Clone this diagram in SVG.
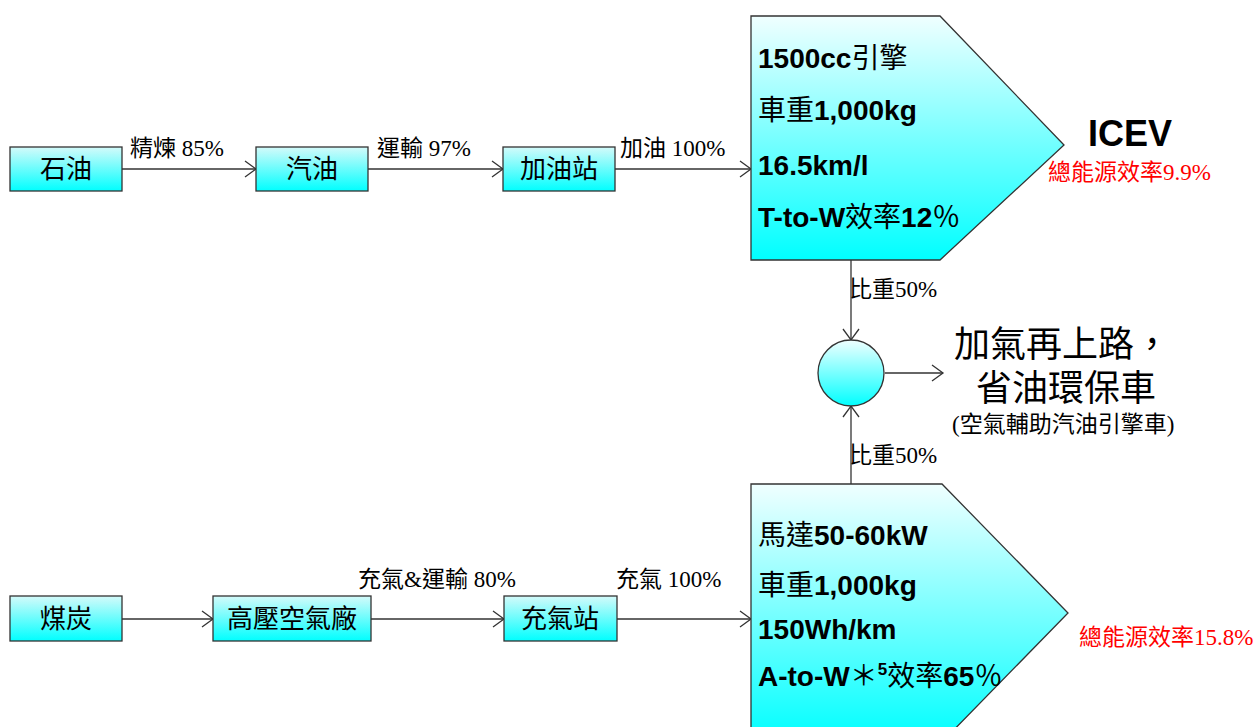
<svg xmlns="http://www.w3.org/2000/svg" width="1259" height="727" viewBox="0 0 1259 727">
<style>
.box{stroke:#333;stroke-width:1.3}
.cn{font-family:"Liberation Serif","Noto Sans CJK TC",serif;fill:#000}
.lbl{font-size:23px}
.boxt{font-size:26px;text-anchor:middle}
.big{font-family:"Liberation Sans","Noto Sans CJK TC",sans-serif;font-size:28px;font-weight:bold;fill:#000}
.reg{font-weight:normal;font-family:"Noto Sans CJK TC",sans-serif}
.red{font-family:"Liberation Serif","Noto Sans CJK TC",serif;font-size:23px;fill:#ff0000}
.conn{stroke:#333;stroke-width:1.3;fill:none}
</style>
<defs>
<linearGradient id="gBox" x1="0" y1="0" x2="0" y2="1">
<stop offset="0" stop-color="#d4fafa"/>
<stop offset="1" stop-color="#00ffff"/>
</linearGradient>
<linearGradient id="gPent" x1="0" y1="0" x2="0" y2="1">
<stop offset="0" stop-color="#f0ffff"/>
<stop offset="1" stop-color="#00ffff"/>
</linearGradient>
<marker id="arr" markerWidth="14" markerHeight="18" refX="12" refY="9" orient="auto" markerUnits="userSpaceOnUse">
<path d="M1,1 L12,9 L1,17" fill="none" stroke="#333" stroke-width="1.3"/>
</marker>
</defs>

<g id="connectors">
<line class="conn" x1="122" y1="169" x2="256" y2="169" marker-end="url(#arr)"/>
<line class="conn" x1="368" y1="169" x2="503" y2="169" marker-end="url(#arr)"/>
<line class="conn" x1="615" y1="169" x2="751" y2="169" marker-end="url(#arr)"/>
<line class="conn" x1="122" y1="619" x2="213" y2="619" marker-end="url(#arr)"/>
<line class="conn" x1="371" y1="619" x2="504" y2="619" marker-end="url(#arr)"/>
<line class="conn" x1="617" y1="619" x2="751" y2="619" marker-end="url(#arr)"/>
<line class="conn" x1="851" y1="260" x2="851" y2="340" marker-end="url(#arr)"/>
<line class="conn" x1="851" y1="484" x2="851" y2="406" marker-end="url(#arr)"/>
<line class="conn" x1="885" y1="373" x2="943" y2="373" marker-end="url(#arr)"/>
<text class="cn lbl" x="130" y="156">精煉 85%</text>
<text class="cn lbl" x="377" y="156">運輸 97%</text>
<text class="cn lbl" x="620" y="156">加油 100%</text>
<text class="cn lbl" x="849" y="297">比重50%</text>
<text class="cn lbl" x="849" y="463">比重50%</text>
<text class="cn lbl" x="358" y="587">充氣&amp;運輸 80%</text>
<text class="cn lbl" x="616" y="587">充氣 100%</text>
</g>

<g id="n-oil"><rect class="box" x="10" y="147" width="112" height="44" fill="url(#gBox)"/><text class="cn boxt" x="66" y="178">石油</text></g>
<g id="n-gasoline"><rect class="box" x="256" y="147" width="112" height="44" fill="url(#gBox)"/><text class="cn boxt" x="312" y="178">汽油</text></g>
<g id="n-station"><rect class="box" x="503" y="147" width="112" height="44" fill="url(#gBox)"/><text class="cn boxt" x="559" y="178">加油站</text></g>

<g id="n-coal"><rect class="box" x="10" y="596" width="112" height="45" fill="url(#gBox)"/><text class="cn boxt" x="66" y="628">煤炭</text></g>
<g id="n-plant"><rect class="box" x="213" y="596" width="158" height="45" fill="url(#gBox)"/><text class="cn boxt" x="292" y="628">高壓空氣廠</text></g>
<g id="n-airstation"><rect class="box" x="504" y="596" width="113" height="45" fill="url(#gBox)"/><text class="cn boxt" x="560" y="628">充氣站</text></g>

<g id="n-icev">
<path class="box" d="M751,16 L940,16 L1064,145 L940,260 L751,260 Z" fill="url(#gPent)"/>
<text class="big" x="758" y="68">1500cc<tspan class="reg">引擎</tspan></text>
<text class="big" x="758" y="120"><tspan class="reg">車重</tspan>1,000kg</text>
<text class="big" x="758" y="175">16.5km/l</text>
<text class="big" x="758" y="227">T-to-W<tspan class="reg">效率</tspan>12<tspan class="reg">％</tspan></text>
<text x="1088" y="146" style="font-family:'Liberation Sans',sans-serif;font-size:36px;font-weight:bold;fill:#000">ICEV</text>
<text class="red" x="1048" y="180">總能源效率9.9%</text>
</g>

<g id="n-air">
<path class="box" d="M751,484 L942,484 L1068,613 L942,742 L751,742 Z" fill="url(#gPent)"/>
<text class="big" x="758" y="545"><tspan class="reg">馬達</tspan>50-60kW</text>
<text class="big" x="758" y="595"><tspan class="reg">車重</tspan>1,000kg</text>
<text class="big" x="758" y="639">150Wh/km</text>
<text class="big" x="758" y="686">A-to-W<tspan class="reg">＊</tspan><tspan font-size="17" dy="-11">5</tspan><tspan class="reg" dy="11">效率</tspan>65<tspan class="reg">％</tspan></text>
<text class="red" x="1079" y="645">總能源效率15.8%</text>
</g>

<g id="n-combine">
<circle class="box" cx="851" cy="373" r="33" fill="url(#gPent)"/>
</g>

<g id="n-result">
<text class="cn" x="1062" y="357" style="font-size:36px;text-anchor:middle">加氣再上路，</text>
<text class="cn" x="1066" y="401" style="font-size:36px;text-anchor:middle">省油環保車</text>
<text class="cn" x="952" y="432" style="font-size:23px">(空氣輔助汽油引擎車)</text>
</g>
</svg>
